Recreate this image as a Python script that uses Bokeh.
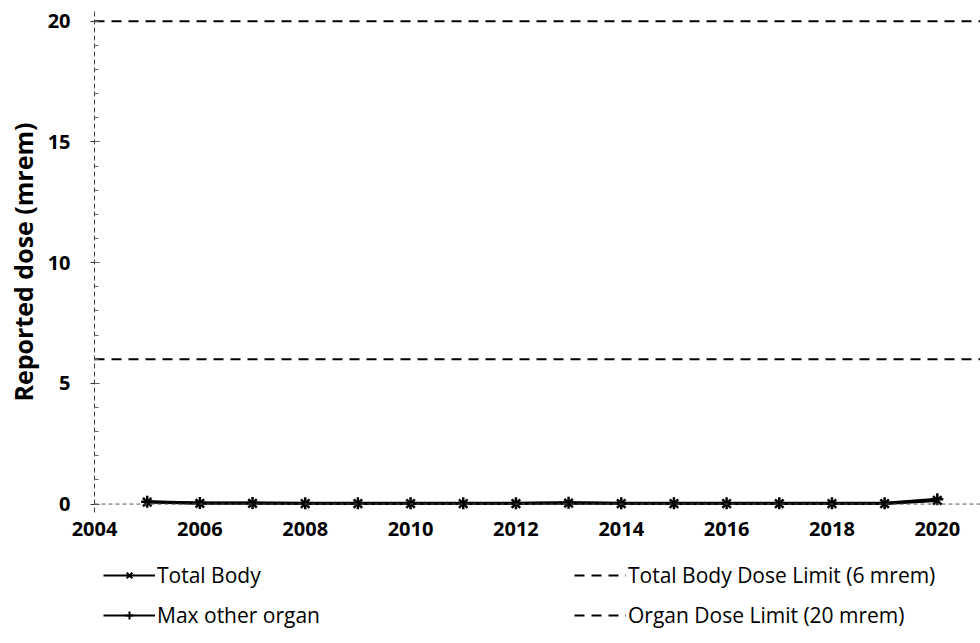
from bokeh.plotting import figure
from bokeh.layouts import column
from bokeh.models import Legend, LegendItem, Span, FixedTicker, Range1d
from bokeh.embed import file_html
from bokeh.resources import INLINE

years = [2005, 2006, 2007, 2008, 2009, 2010, 2011, 2012, 2013, 2014, 2015, 2016, 2017, 2018, 2019, 2020]
total_body = [0.08, 0.03, 0.03, 0.02, 0.02, 0.02, 0.02, 0.02, 0.04, 0.02, 0.02, 0.02, 0.02, 0.02, 0.02, 0.15]
max_other_organ = [0.10, 0.04, 0.04, 0.03, 0.03, 0.03, 0.03, 0.03, 0.05, 0.03, 0.03, 0.03, 0.03, 0.03, 0.03, 0.20]
total_body_limit = 6
organ_limit = 20
x_ticks = [2004, 2006, 2008, 2010, 2012, 2014, 2016, 2018, 2020]
y_ticks = [0, 5, 10, 15, 20]
series_names = ["Total Body", "Max other organ"]
limit_names = ["Total Body Dose Limit (6 mrem)", "Organ Dose Limit (20 mrem)"]

FONT = "Open Sans"
X_END = 2020.82

p = figure(width=980, height=548, output_backend="svg", toolbar_location=None,
           x_range=Range1d(2004, X_END), y_range=Range1d(-0.35, 20.4),
           min_border_left=94, min_border_right=0, min_border_top=11, min_border_bottom=36)
p.outline_line_color = None
p.grid.visible = False
p.background_fill_color = "white"

# limit lines
p.line([2004, X_END], [total_body_limit, total_body_limit], line_color="black",
       line_width=2, line_dash="10 7")
p.line([2004, X_END], [organ_limit, organ_limit], line_color="black",
       line_width=2, line_dash="10 7")

# zero line (x axis)
p.add_layout(Span(location=0, dimension="width", line_color="#555555", line_width=1,
                  line_dash="4 3"))

p.line(years, total_body, line_color="black", line_width=3)
p.scatter(years, total_body, marker="x", size=12, line_color="black", line_width=2.5)
p.line(years, max_other_organ, line_color="black", line_width=3)
p.scatter(years, max_other_organ, marker="cross", size=12, line_color="black", line_width=2.5)

# axes
xa = p.xaxis[0]
xa.ticker = FixedTicker(ticks=x_ticks)
xa.axis_line_color = None
xa.major_tick_line_color = None
xa.minor_tick_line_color = None
xa.major_label_text_font = FONT
xa.major_label_text_font_style = "bold"
xa.major_label_text_font_size = "20px"
xa.major_label_text_color = "black"
xa.major_label_standoff = 3

ya = p.yaxis[0]
ya.ticker = FixedTicker(ticks=y_ticks, minor_ticks=list(range(0, 21)))
ya.axis_line_color = "#444444"
ya.axis_line_width = 1
ya.axis_line_dash = "5 3"
ya.major_tick_in = 5
ya.major_tick_out = 4
ya.major_tick_line_color = "#333333"
ya.minor_tick_in = 4
ya.minor_tick_out = 0
ya.minor_tick_line_color = "#666666"
ya.major_label_text_font = FONT
ya.major_label_text_font_style = "bold"
ya.major_label_text_font_size = "20px"
ya.major_label_text_color = "black"
ya.major_label_standoff = 20
ya.axis_label = "Reported dose (mrem)"
ya.axis_label_text_font = FONT
ya.axis_label_text_font_style = "bold"
ya.axis_label_text_font_size = "25px"
ya.axis_label_text_color = "black"
ya.axis_label_standoff = 5

# legend figure below (dummy renderers lie outside its range; only legend shows)
q = figure(width=980, height=95, output_backend="svg", toolbar_location=None,
           x_axis_type=None, y_axis_type=None, x_range=Range1d(0, 1), y_range=Range1d(0, 1),
           min_border=0)
q.outline_line_color = None
q.grid.visible = False
dx, dy = [10, 11], [10, 11]
r_tb = [q.line(dx, dy, line_color="black", line_width=2),
        q.scatter(dx, dy, marker="x", size=9, line_color="black", line_width=2)]
r_mo = [q.line(dx, dy, line_color="black", line_width=2),
        q.scatter(dx, dy, marker="cross", size=9, line_color="black", line_width=2)]
r_l1 = [q.line(dx, dy, line_color="black", line_width=2, line_dash="10 7")]
r_l2 = [q.line(dx, dy, line_color="black", line_width=2, line_dash="10 7")]

def mk_legend(items, loc):
    return Legend(items=items, location=loc, orientation="horizontal",
                  glyph_width=52, glyph_height=20, label_height=20, spacing=107,
                  label_width=310, label_standoff=2, padding=0, margin=0,
                  border_line_color=None, background_fill_alpha=0,
                  label_text_font=FONT, label_text_font_size="21px",
                  label_text_color="black")

leg1 = mk_legend([LegendItem(label=series_names[0], renderers=r_tb),
                  LegendItem(label=limit_names[0], renderers=r_l1)], (9, 54))
leg2 = mk_legend([LegendItem(label=series_names[1], renderers=r_mo),
                  LegendItem(label=limit_names[1], renderers=r_l2)], (9, 14))
q.add_layout(leg1, "center")
q.add_layout(leg2, "center")

layout = column(p, q, spacing=0)
open("out.html", "w").write(file_html(layout, INLINE))
